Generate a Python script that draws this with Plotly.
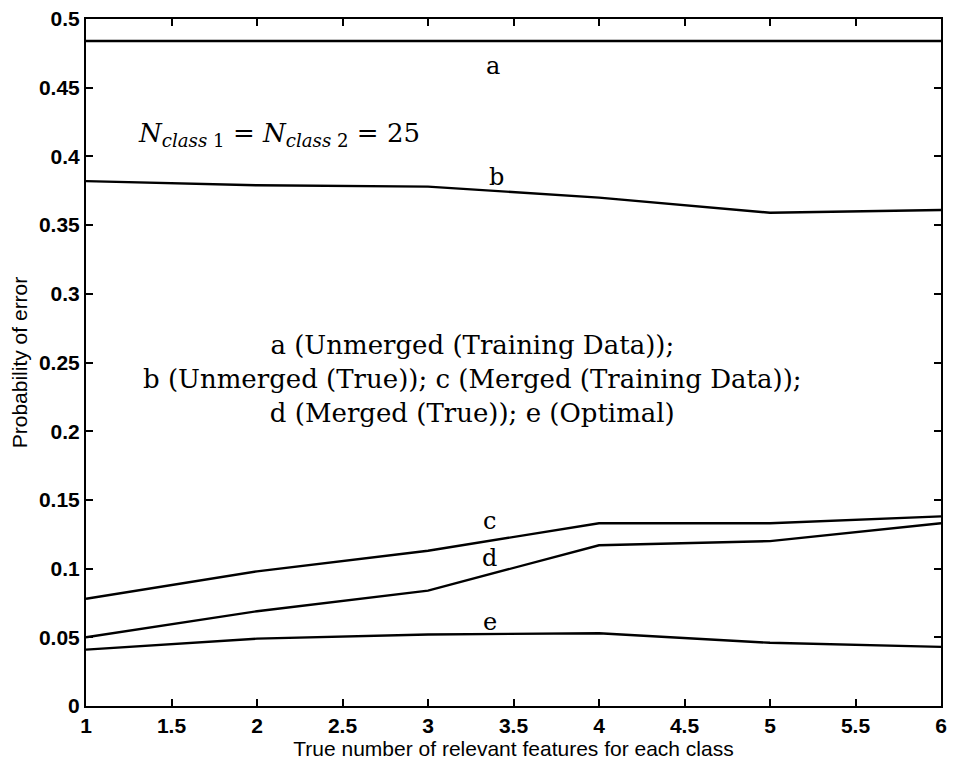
import plotly.graph_objects as go

# Number of relevant features per class
features = [1, 2, 3, 4, 5, 6]

# Probability of error for each method
err_a = [0.484, 0.484, 0.484, 0.484, 0.484, 0.484]   # Unmerged (Training Data)
err_b = [0.382, 0.379, 0.378, 0.370, 0.359, 0.361]   # Unmerged (True)
err_c = [0.078, 0.098, 0.113, 0.133, 0.133, 0.138]   # Merged (Training Data)
err_d = [0.050, 0.069, 0.084, 0.117, 0.120, 0.133]   # Merged (True)
err_e = [0.041, 0.049, 0.052, 0.053, 0.046, 0.043]   # Optimal

series = [("a", err_a), ("b", err_b), ("c", err_c), ("d", err_d), ("e", err_e)]

# Curve tags and their positions (data coordinates)
tag_x = [3.38, 3.40, 3.36, 3.36, 3.36]
tag_y = [0.466, 0.385, 0.135, 0.108, 0.061]

serif = "DejaVu Serif"
sans = "Liberation Sans"

fig = go.Figure()
for name, ys in series:
    fig.add_trace(go.Scatter(x=features, y=ys, mode="lines", name=name,
                             line=dict(color="black", width=2.4),
                             showlegend=False))

for (name, _), tx, ty in zip(series, tag_x, tag_y):
    fig.add_annotation(x=tx, y=ty, text=name, showarrow=False,
                       font=dict(family=serif, size=24, color="black"))

fig.add_annotation(
    x=2.13, y=0.416, showarrow=False,
    text="<i>N</i><sub><i>class</i> 1</sub> = <i>N</i><sub><i>class</i> 2</sub> = 25",
    font=dict(family=serif, size=26, color="black"))

fig.add_annotation(
    x=3.26, y=0.238, showarrow=False, align="center",
    text=("a (Unmerged (Training Data));<br>"
          "b (Unmerged (True)); c (Merged (Training Data));<br>"
          "d (Merged (True)); e (Optimal)"),
    font=dict(family=serif, size=26, color="black"))

axis_common = dict(showline=True, linecolor="black", linewidth=2,
                   mirror="ticks", ticks="inside", ticklen=7, tickwidth=2,
                   tickcolor="black", showgrid=False, zeroline=False,
                   tickfont=dict(family=sans, size=21, color="black",
                                 weight="bold"))

fig.update_xaxes(range=[1, 6], dtick=0.5, tick0=1,
                 title=dict(text="True number of relevant features for each class",
                            font=dict(family=sans, size=21, color="black"),
                            standoff=0),
                 **axis_common)
fig.update_yaxes(range=[0, 0.5], dtick=0.05, tick0=0,
                 title=dict(text="Probability of error",
                            font=dict(family=sans, size=21, color="black"),
                            standoff=6),
                 **axis_common)

fig.update_layout(width=954, height=763,
                  margin=dict(l=86, r=7, t=17, b=57),
                  plot_bgcolor="white", paper_bgcolor="white")

fig.write_html("out.html")
